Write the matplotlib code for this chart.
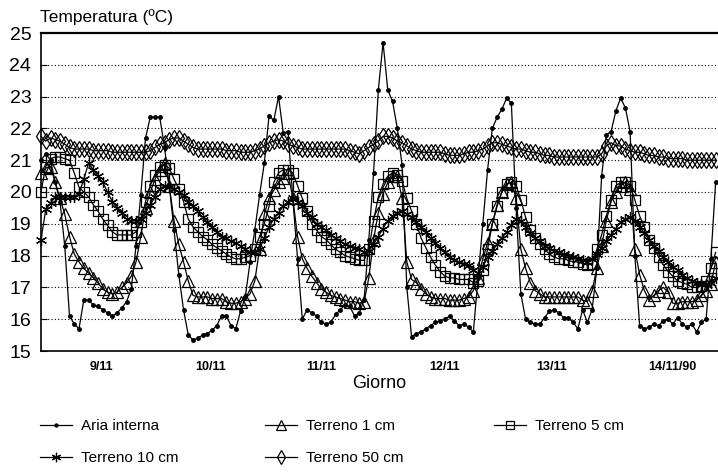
import matplotlib
matplotlib.use("Agg")
import matplotlib.pyplot as plt

plt.rcParams['font.family'] = ['Liberation Sans', 'DejaVu Sans']

# hourly readings, hour 0 = left edge of the plot
aria = [21.0, 21.2, 21.0, 20.3, 19.7, 18.3, 16.1, 15.85, 15.7, 16.6,
        16.6, 16.45, 16.4, 16.3, 16.2, 16.1, 16.2, 16.35, 16.55, 16.95,
        18.3, 19.9, 21.7, 22.35, 22.35, 22.35, 21.4, 20.2, 18.8, 17.4,
        16.3, 15.5, 15.35, 15.4, 15.5, 15.55, 15.65, 15.8, 16.1, 16.1,
        15.8, 15.7, 16.25, 16.7, 17.8, 18.8, 19.9, 20.9, 22.4, 22.25,
        23.0, 21.85, 21.9, 19.8, 17.9, 16.0, 16.3, 16.2, 16.1, 15.9,
        15.85, 15.9, 16.15, 16.3, 16.45, 16.4, 16.1, 16.2, 16.6, 18.5,
        20.6, 23.2, 24.7, 23.2, 22.85, 22.0, 20.85, 17.0, 15.45, 15.55,
        15.6, 15.7, 15.8, 15.9, 15.95, 16.0, 16.1, 15.95, 15.8, 15.85,
        15.75, 15.6, 17.3, 19.0, 20.7, 22.0, 22.35, 22.6, 22.95, 22.8,
        19.5, 16.8, 16.0, 15.9, 15.85, 15.85, 16.05, 16.25, 16.3, 16.2,
        16.05, 16.05, 15.9, 15.7, 16.3, 15.9, 16.3, 17.6, 20.5, 21.8,
        21.9, 22.55, 22.95, 22.65, 21.9, 18.0, 15.8, 15.7, 15.75, 15.85,
        15.8, 15.95, 16.0, 15.85, 16.05, 15.85, 15.75, 15.85, 15.6, 15.9,
        16.0, 17.9, 20.3]

terreno1 = [20.6, 20.75, 20.8, 20.3, 19.8, 19.3, 18.6, 18.05, 17.8, 17.6,
            17.45, 17.3, 17.14, 16.95, 16.85, 16.8, 16.85, 17.0, 17.14, 17.35,
            17.8, 18.6, 19.5, 20.0, 20.4, 20.7, 20.9, 20.2, 19.1, 18.35,
            17.8, 17.2, 16.75, 16.7, 16.7, 16.7, 16.65, 16.65, 16.65, 16.55,
            16.5, 16.5, 16.55, 16.65, 16.8, 17.2, 18.2, 19.3, 19.8, 20.05,
            20.3, 20.45, 20.6, 19.8, 18.6, 17.9, 17.6, 17.35, 17.15, 16.95,
            16.85, 16.75, 16.7, 16.65, 16.6, 16.55, 16.55, 16.5, 16.55, 17.3,
            18.5, 19.35, 19.95, 20.3, 20.5, 20.5, 19.8, 17.8, 17.25, 17.15,
            16.95, 16.8, 16.7, 16.65, 16.65, 16.65, 16.6, 16.6, 16.6, 16.65,
            16.7, 16.9, 17.3, 17.9, 18.4, 19.0, 19.6, 20.0, 20.25, 20.3,
            19.8, 18.2, 17.6, 17.15, 16.9, 16.8, 16.7, 16.7, 16.7, 16.7,
            16.7, 16.7, 16.7, 16.7, 16.6, 16.55, 16.9, 17.6, 18.3, 19.1,
            19.7, 20.0, 20.2, 20.3, 20.1, 18.2, 17.4, 16.9, 16.6, 16.75,
            16.9, 17.0, 16.85, 16.5, 16.5, 16.55, 16.55, 16.55, 16.6, 16.75,
            16.9, 17.1, 17.8]

terreno5 = [20.0, 20.8, 21.05, 21.1, 21.1, 21.05, 21.0, 20.6, 20.15, 20.0,
            19.85, 19.6, 19.4, 19.15, 18.95, 18.75, 18.65, 18.65, 18.65, 18.65,
            18.75, 19.05, 19.7, 20.2, 20.55, 20.8, 20.85, 20.75, 20.4, 20.1,
            19.7, 19.15, 18.9, 18.75, 18.6, 18.5, 18.35, 18.25, 18.15, 18.05,
            17.95, 17.9, 17.9, 17.95, 18.0, 18.2, 18.6, 19.0, 19.55, 20.3,
            20.6, 20.7, 20.7, 20.6, 20.2, 19.8, 19.4, 19.0, 18.8, 18.6,
            18.5, 18.35, 18.2, 18.1, 18.0, 17.95, 17.9, 17.85, 17.85, 18.2,
            19.1, 19.85, 20.25, 20.5, 20.6, 20.55, 20.35, 19.8, 19.4, 19.0,
            18.55, 18.25, 17.95, 17.7, 17.5, 17.35, 17.3, 17.3, 17.25, 17.25,
            17.25, 17.15, 17.2, 17.55, 18.2, 19.0, 19.55, 20.0, 20.25, 20.3,
            20.2, 19.75, 19.2, 18.8, 18.55, 18.35, 18.2, 18.05, 17.95, 17.9,
            17.9, 17.85, 17.8, 17.8, 17.75, 17.7, 17.75, 18.2, 18.65, 19.25,
            19.75, 20.2, 20.3, 20.3, 20.2, 19.75, 19.25, 18.9, 18.5, 18.25,
            17.95, 17.7, 17.5, 17.35, 17.2, 17.15, 17.1, 17.0, 17.0, 17.05,
            17.2, 17.6, 18.1]

terreno10 = [18.5, 19.45, 19.65, 19.85, 19.85, 19.85, 19.85, 19.85, 19.95, 20.4,
             20.9, 20.7, 20.5, 20.3, 20.0, 19.7, 19.5, 19.35, 19.15, 19.1,
             19.1, 19.15, 19.35, 19.6, 19.85, 20.1, 20.2, 20.15, 20.1, 20.0,
             19.9, 19.7, 19.55, 19.4, 19.2, 19.05, 18.9, 18.75, 18.6, 18.55,
             18.45, 18.4, 18.3, 18.2, 18.1, 18.1, 18.2, 18.55, 18.9, 19.15,
             19.35, 19.55, 19.7, 19.8, 19.7, 19.55, 19.35, 19.2, 19.0, 18.9,
             18.8, 18.65, 18.55, 18.45, 18.35, 18.3, 18.25, 18.2, 18.1, 18.15,
             18.35, 18.6, 18.85, 19.1, 19.25, 19.35, 19.4, 19.3, 19.2, 19.05,
             18.9, 18.75, 18.55, 18.4, 18.25, 18.1, 17.95, 17.85, 17.8, 17.75,
             17.7, 17.55, 17.45, 17.65, 17.95, 18.15, 18.35, 18.55, 18.75, 18.95,
             19.15, 19.1, 18.9, 18.7, 18.55, 18.45, 18.3, 18.25, 18.15, 18.1,
             18.05, 18.0, 17.95, 17.9, 17.85, 17.8, 17.9, 18.05, 18.25, 18.45,
             18.65, 18.85, 19.05, 19.15, 19.2, 19.1, 18.9, 18.7, 18.5, 18.3,
             18.15, 17.95, 17.8, 17.65, 17.55, 17.4, 17.3, 17.2, 17.15, 17.1,
             17.1, 17.15, 17.3]

terreno50 = [21.75, 21.6, 21.7, 21.65, 21.6, 21.5, 21.4, 21.35, 21.35, 21.35,
             21.35, 21.3, 21.3, 21.3, 21.3, 21.25, 21.25, 21.25, 21.25, 21.25,
             21.25, 21.25, 21.25, 21.3, 21.4, 21.5, 21.55, 21.65, 21.7, 21.7,
             21.6, 21.5, 21.4, 21.35, 21.35, 21.35, 21.35, 21.35, 21.35, 21.3,
             21.3, 21.3, 21.25, 21.25, 21.25, 21.3, 21.35, 21.45, 21.55, 21.6,
             21.65, 21.6, 21.5, 21.45, 21.4, 21.35, 21.35, 21.35, 21.35, 21.35,
             21.35, 21.35, 21.35, 21.35, 21.35, 21.3, 21.25, 21.2, 21.3, 21.4,
             21.5, 21.6, 21.75, 21.75, 21.7, 21.6, 21.55, 21.45, 21.35, 21.3,
             21.25, 21.25, 21.25, 21.25, 21.25, 21.2, 21.15, 21.15, 21.15, 21.2,
             21.25, 21.25, 21.3, 21.35, 21.45, 21.55, 21.55, 21.5, 21.45, 21.4,
             21.35, 21.35, 21.3, 21.25, 21.25, 21.2, 21.15, 21.15, 21.1, 21.1,
             21.1, 21.1, 21.1, 21.1, 21.1, 21.1, 21.1, 21.1, 21.2, 21.45,
             21.55, 21.45, 21.45, 21.35, 21.3, 21.25, 21.25, 21.2, 21.15, 21.15,
             21.1, 21.1, 21.05, 21.05, 21.05, 21.05, 21.0, 21.0, 21.0, 21.0,
             21.0, 21.0, 21.0]

ore = list(range(len(aria)))

giorni = ["9/11", "10/11", "11/11", "12/11", "13/11", "14/11/90"]
giorni_pos = [12.8, 35.8, 58.9, 85.0, 107.4, 133.0]

fig = plt.figure(figsize=(7.18, 4.72), dpi=100)
ax = fig.add_axes([41 / 718, 121 / 472, 677 / 718, 318 / 472])

lw = 0.9
common = dict(color="k", linewidth=lw, clip_on=False)
l_aria, = ax.plot(ore, aria, marker="o", markersize=2.5, label="Aria interna", zorder=6, **common)
l_t1, = ax.plot(ore, terreno1, marker="^", markersize=8, markerfacecolor="none",
                markeredgewidth=0.9, label="Terreno 1 cm", zorder=4, **common)
l_t5, = ax.plot(ore, terreno5, marker="s", markersize=7, markerfacecolor="none",
                markeredgewidth=0.9, label="Terreno 5 cm", zorder=3, **common)
l_t10, = ax.plot(ore, terreno10, marker=(6, 2, 0), markersize=8,
                 markeredgewidth=0.9, label="Terreno 10 cm", zorder=5, **common)
l_t50, = ax.plot(ore, terreno50, marker="d", markersize=8, markerfacecolor="none",
                 markeredgewidth=0.9, label="Terreno 50 cm", zorder=2, **common)

ax.set_xlim(0, 142.5)
ax.set_ylim(15, 25)
ax.set_yticks(range(15, 26))
ax.set_xticks(giorni_pos)
ax.set_xticklabels(giorni, fontsize=9, fontweight="bold")
ax.tick_params(axis="x", length=0, pad=7)
ax.tick_params(axis="y", labelsize=14, length=4, direction="in", pad=7)
ax.spines["right"].set_visible(False)
for s in ["left", "bottom"]:
    ax.spines[s].set_linewidth(1.2)
ax.spines["top"].set_linewidth(1.6)

for v in range(16, 25):
    ax.axhline(v, color="k", linestyle=(0, (1, 2)), linewidth=0.8, zorder=1)

fig.text(40 / 718, 1 - 17 / 472, "Temperatura (ºC)", fontsize=12.5, va="center", ha="left")
fig.text(379 / 718, 1 - 383 / 472, "Giorno", fontsize=13, va="center", ha="center")

leg_kw = dict(loc="upper left", frameon=False, fontsize=11, handlelength=2.1,
              handletextpad=0.6, labelspacing=1.2, borderpad=0, borderaxespad=0,
              markerscale=0.85)
fig.legend([l_aria, l_t10], ["Aria interna", "Terreno 10 cm"],
           bbox_to_anchor=(40 / 718, 1 - 419 / 472), **leg_kw)
fig.legend([l_t1, l_t50], ["Terreno 1 cm", "Terreno 50 cm"],
           bbox_to_anchor=(265 / 718, 1 - 419 / 472), **leg_kw)
fig.legend([l_t5], ["Terreno 5 cm"],
           bbox_to_anchor=(494 / 718, 1 - 419 / 472), **leg_kw)

fig.savefig("out.png", dpi=100)
